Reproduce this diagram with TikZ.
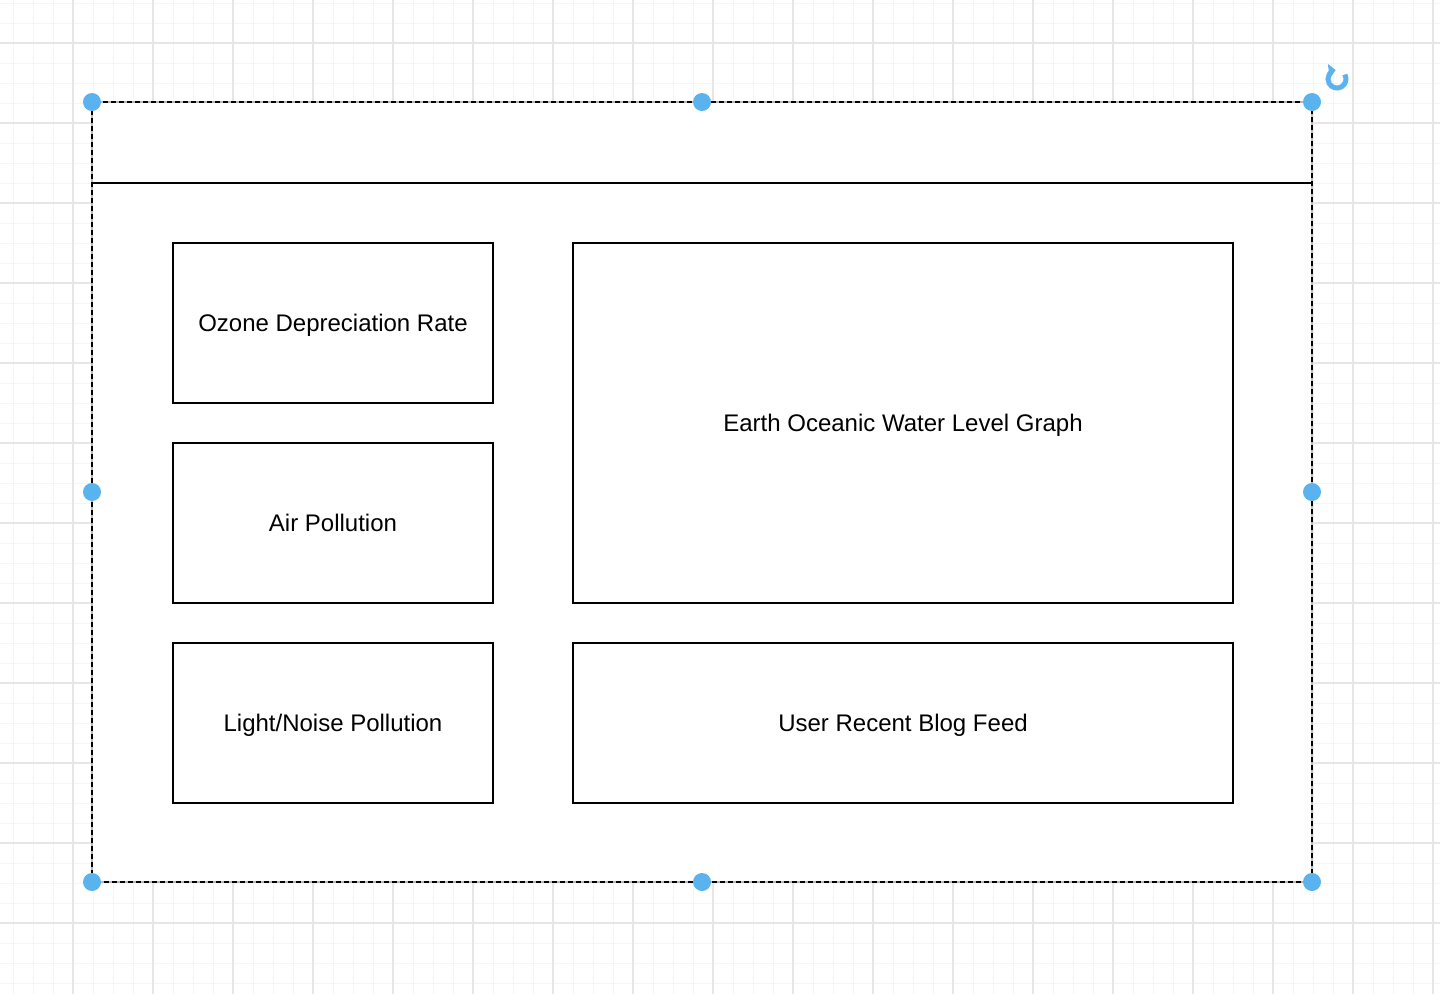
\documentclass[tikz,border=0pt]{standalone}
\usepackage{fontspec}
\setmainfont{Liberation Sans}
\usetikzlibrary{positioning,arrows.meta}
\definecolor{handleblue}{RGB}{90,178,238}
\definecolor{gridminor}{RGB}{245,245,245}
\definecolor{gridmajor}{RGB}{230,230,230}

\begin{document}
\begin{tikzpicture}[x=1pt,y=-1pt,node distance=40pt and 80pt,
    widget/.style={draw,line width=2pt,outer sep=0pt,inner sep=0pt,text depth=0pt,minimum width=320pt,minimum height=160pt,font=\fontsize{24}{28}\selectfont},
    handle/.style={circle,fill=handleblue,minimum size=18pt,inner sep=0pt},
    panel/.style={draw=black!28,fill=white,line width=2pt,outer sep=0pt,minimum width=1220pt,minimum height=780pt}]
  \useasboundingbox (0,0) rectangle (1440,994);
  % grid
  \foreach \i in {0,...,71} \draw[gridminor,line width=1pt] (13+20*\i,0) -- (13+20*\i,994);
  \foreach \i in {0,...,49} \draw[gridminor,line width=1pt] (0,3+20*\i) -- (1440,3+20*\i);
  \foreach \i in {0,...,17} \draw[gridmajor,line width=1.5pt] (73+80*\i,0) -- (73+80*\i,994);
  \foreach \i in {0,...,11} \draw[gridmajor,line width=1.5pt] (0,43+80*\i) -- (1440,43+80*\i);

  \node[panel] (panel) at (702,492) {};
  \draw[line width=2pt,dash pattern=on 5pt off 3pt] (panel.north west) rectangle (panel.south east);
  \coordinate (head) at ([yshift=-81pt]panel.north west);
  \draw[line width=2pt] (head) -- (head -| panel.east);

  \node[widget] (ozone) at (333,323) {Ozone Depreciation Rate};
  \node[widget] (air) [below=of ozone] {Air Pollution};
  \node[widget] (light) [below=of air] {Light/Noise Pollution};
  \node[widget,minimum width=660pt,minimum height=360pt] (earth) [right=80pt of ozone.north east,anchor=north west] {Earth Oceanic Water Level Graph};
  \node[widget,minimum width=660pt] (blog) [below=of earth] {User Recent Blog Feed};

  % selection handles
  \foreach \a in {north west,north,north east,east,south east,south,south west,west}
    \node[handle] at (panel.\a) {};
  \coordinate (rot) at (1337,79);
  \draw[handleblue,line width=5pt,-{Triangle[length=7pt,width=14pt]}] (rot) ++(30:9pt) arc[start angle=30,end angle=-262,radius=9pt];
\end{tikzpicture}
\end{document}
